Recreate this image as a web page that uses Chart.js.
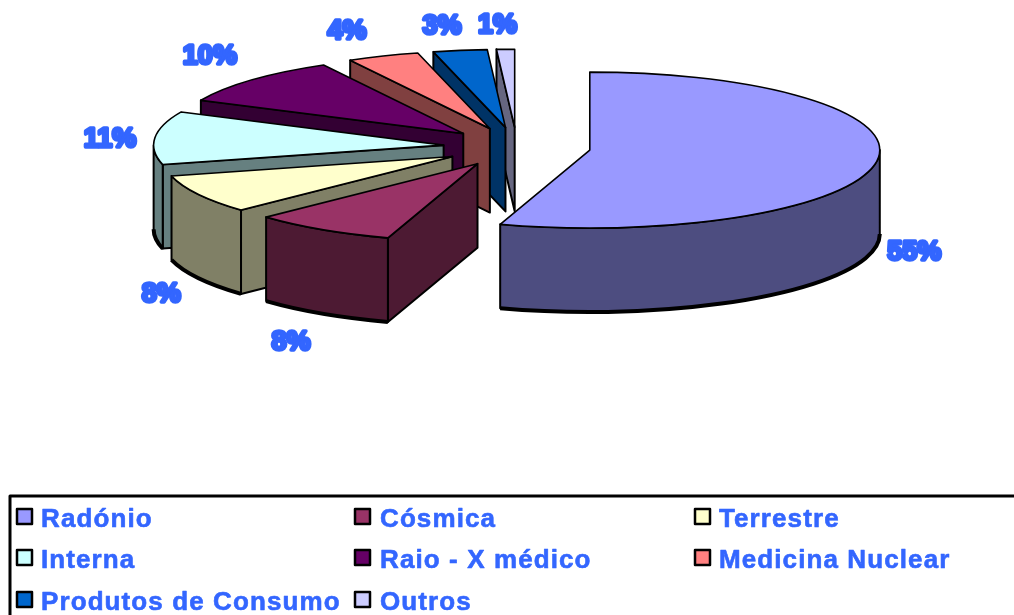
<!DOCTYPE html>
<html>
<head>
<meta charset="utf-8">
<style>
html,body{margin:0;padding:0;background:#fff;overflow:hidden}
canvas{display:block;filter:blur(0.6px)}
</style>
<script src="https://cdn.jsdelivr.net/npm/chart.js@4"></script>
</head>
<body>
<canvas id="c" width="1014" height="615"></canvas>
<script>
const categories = ['Radónio','Cósmica','Terrestre','Interna','Raio - X médico','Medicina Nuclear','Produtos de Consumo','Outros'];
const percentages = [55,8,8,11,10,4,3,1];
const sliceColors = ['#9999ff','#993366','#ffffcc','#ccffff','#660066','#ff8080','#0066cc','#ccccff'];
const wallColors  = ['#4d4d80','#4d1a33','#808066','#668080','#330033','#804040','#003366','#666680'];
const labelNudges = [[38,90],[-31,113],[-37,100],[-45,2],[-42,-23],[-36,-24],[-18,-24],[-8,-24]];
const legendColumns = [[17,41],[355,380],[695,719]];
const legendRows = [527,568,610];

const SQUASH = 78/290, DEPTH = 84, BLUE = '#3366ff';

const pie3d = {
  id:'pie3d',
  beforeDatasetsDraw(chart){
    const ctx = chart.ctx, arcs = chart.getDatasetMeta(0).data;
    for(let i = arcs.length-1; i >= 0; i--){
      const el = arcs[i], s = el.startAngle, e = el.endAngle, R = el.outerRadius, m = (s+e)/2, off = el.options.offset;
      const ax = el.x+Math.cos(m)*off, ay = el.y+Math.sin(m)*off*SQUASH, ry = R*SQUASH;
      const rim = a => [ax+Math.cos(a)*R, ay+Math.sin(a)*ry];
      ctx.save();
      ctx.lineJoin = 'round';
      ctx.strokeStyle = '#000';
      ctx.fillStyle = wallColors[i];
      ctx.lineWidth = 2;
      const faces = [];
      if(Math.cos(s) < -1e-6) faces.push(s);
      if(Math.cos(e) > 1e-6) faces.push(e);
      faces.forEach(a=>{
        const p = rim(a);
        ctx.beginPath();
        ctx.moveTo(ax,ay); ctx.lineTo(p[0],p[1]); ctx.lineTo(p[0],p[1]+DEPTH); ctx.lineTo(ax,ay+DEPTH); ctx.closePath();
        ctx.fill(); ctx.stroke();
      });
      const a0 = Math.max(s,0), a1 = Math.min(e,Math.PI);
      if(a0 < a1){
        ctx.beginPath();
        ctx.ellipse(ax,ay,R,ry,0,a0,a1);
        ctx.ellipse(ax,ay+DEPTH,R,ry,0,a1,a0,true);
        ctx.closePath();
        ctx.fill();
        ctx.lineWidth = 2; ctx.stroke();
        ctx.lineWidth = 4;
        ctx.beginPath();
        ctx.ellipse(ax,ay+DEPTH,R,ry,0,a1,a0,true);
        ctx.stroke();
      }
      ctx.beginPath();
      ctx.moveTo(ax,ay);
      ctx.ellipse(ax,ay,R,ry,0,s,e);
      ctx.closePath();
      ctx.fillStyle = sliceColors[i];
      ctx.fill();
      ctx.lineWidth = 1.6;
      ctx.stroke();
      ctx.restore();
    }
    return false;
  },
  afterDraw(chart){
    const ctx = chart.ctx, arcs = chart.getDatasetMeta(0).data;
    ctx.save();
    // data labels
    ctx.font = 'bold 27px "Liberation Sans"';
    ctx.textAlign = 'center'; ctx.textBaseline = 'middle';
    ctx.fillStyle = BLUE; ctx.strokeStyle = BLUE; ctx.lineWidth = 3.5; ctx.lineJoin = 'round';
    arcs.forEach((el,i)=>{
      const m = (el.startAngle+el.endAngle)/2, off = el.options.offset, R = el.outerRadius;
      const x = el.x+Math.cos(m)*(off+R)+labelNudges[i][0];
      const y = el.y+Math.sin(m)*(off+R)*SQUASH+labelNudges[i][1];
      const t = percentages[i]+'%';
      ctx.strokeText(t,x,y); ctx.fillText(t,x,y);
    });
    // legend box
    ctx.strokeStyle = '#000'; ctx.lineWidth = 3;
    ctx.strokeRect(10,496,1100,300);
    ctx.font = 'bold 26px "Liberation Sans"';
    ctx.textAlign = 'left'; ctx.textBaseline = 'alphabetic';
    ctx.letterSpacing = '1.1px';
    categories.forEach((name,i)=>{
      const col = legendColumns[i%3], y = legendRows[Math.floor(i/3)];
      ctx.fillStyle = sliceColors[i];
      ctx.strokeStyle = '#000'; ctx.lineWidth = 2.5;
      ctx.fillRect(col[0],y-18,15,15);
      ctx.strokeRect(col[0],y-18,15,15);
      ctx.fillStyle = BLUE; ctx.strokeStyle = BLUE; ctx.lineWidth = 0.6;
      ctx.strokeText(name,col[1],y);
      ctx.fillText(name,col[1],y);
    });
    ctx.restore();
  }
};

new Chart(document.getElementById('c'),{
  type:'pie',
  data:{labels:categories,datasets:[{data:percentages,backgroundColor:sliceColors,borderColor:'#000',offset:73.7}]},
  plugins:[pie3d],
  options:{
    responsive:false,
    animation:false,
    radius:290,
    layout:{padding:{left:20,bottom:321}},
    plugins:{legend:{display:false},tooltip:{enabled:false}}
  }
});
</script>
</body>
</html>
